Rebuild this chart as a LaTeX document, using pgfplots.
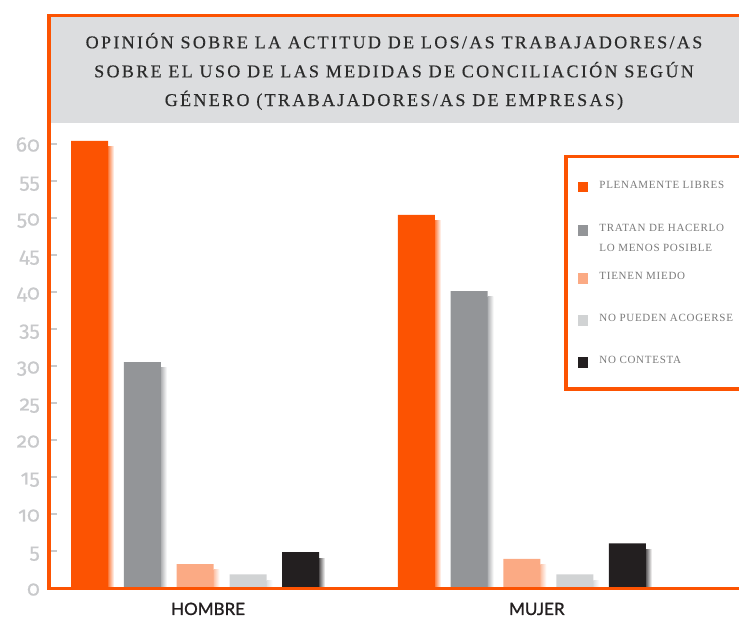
\documentclass[border=0pt]{standalone}
\usepackage{pgfplots}
\pgfplotsset{compat=1.18}
\usepackage{fontspec}
\newfontfamily\titlefont[LetterSpace=13,FakeBold=0.4]{Liberation Serif}
\newfontfamily\legfont[LetterSpace=6.5]{Liberation Serif}
\newfontfamily\tickfont[Numbers=OldStyle,FakeBold=0.6]{Fira Sans}
\newfontfamily\labfont[FakeBold=1.2]{Lato}
\newcommand\tl[1]{\hbox{\tickfont\fontsize{21}{21}\selectfont #1}}
\definecolor{orangeC}{HTML}{FC5302}
\definecolor{grayC}{HTML}{939598}
\definecolor{pinkC}{HTML}{FBAA84}
\definecolor{lgrayC}{HTML}{D1D3D4}
\definecolor{blackC}{HTML}{231F20}
\definecolor{titlebg}{HTML}{DCDDDF}
\definecolor{tickgray}{HTML}{C8C9CB}
\definecolor{titletext}{HTML}{2B2B2B}
\definecolor{leggray}{HTML}{7A7A7A}
\newcommand\lstrut[1]{\rule[-#1]{0pt}{\dimexpr 10pt+#1\relax}}
\pgfplotsset{
  mybar/.style={ybar, bar width=37pt, draw=none, fill=#1,
    legend image code/.code={\fill[#1] (0pt,-4pt) rectangle (10.7pt,6.3pt);}},
  myshadow/.style={ybar, bar width=6pt, draw=none, left color=#1!75!white, right color=white, forget plot},
}
\begin{document}
\begin{tikzpicture}
\useasboundingbox (0,0) rectangle (739pt,618pt);
\clip (0,0) rectangle (739pt,618pt);
\begin{axis}[
  at={(49pt,29.5pt)}, anchor=south west,
  scale only axis, width=690pt, height=573.2pt,
  xmin=-0.4468, xmax=1.6646, ymin=0, ymax=77.46,
  clip=false,
  axis line style={draw=none},
  xtick={0.04,1.046}, xticklabels={HOMBRE,MUJER},
  xtick style={draw=none},
  xticklabel style={font=\labfont\fontsize{17}{17}\selectfont, text=blackC, anchor=base, yshift=-26.5pt},
  ytick={0,5,...,60},
  yticklabel={\tl{\pgfmathprintnumber[assume math mode=true]{\tick}}},
  ytick pos=left, tick align=inside,
  major tick length=8pt,
  ytick style={draw=tickgray, line width=2pt},
  yticklabel style={text=tickgray, anchor=base east, inner sep=0pt, xshift=-9pt, yshift=-7pt},
  legend cell align=left,
  legend style={at={(0.7464,0.7563)}, anchor=north west, draw=orangeC, line width=3.5pt, fill=white,
    inner xsep=12pt, inner ysep=21.5pt, row sep=0pt, column sep=11pt,
    nodes={inner sep=0pt, text depth=},
    cells={anchor=base west, inner sep=0pt},
    font=\legfont\fontsize{11}{11}\selectfont, text=leggray},
]
\fill[titlebg] (axis cs:-0.4468,62.95) rectangle (axis cs:1.75,77.23);
\node[anchor=base, inner sep=0pt, font=\titlefont\fontsize{18}{18}\selectfont, text=titletext] at (axis cs:0.609,73.0) {OPINIÓN SOBRE LA ACTITUD DE LOS/AS TRABAJADORES/AS};
\node[anchor=base, inner sep=0pt, font=\titlefont\fontsize{18}{18}\selectfont, text=titletext] at (axis cs:0.609,69.08) {SOBRE EL USO DE LAS MEDIDAS DE CONCILIACIÓN SEGÚN};
\node[anchor=base, inner sep=0pt, font=\titlefont\fontsize{18}{18}\selectfont, text=titletext] at (axis cs:0.609,65.2) {GÉNERO (TRABAJADORES/AS DE EMPRESAS)};
% shadows (one plot per bar so that each is shaded on its own)
\addplot[myshadow=orangeC, bar shift=-83.9pt] coordinates {(0,59.7)};
\addplot[myshadow=orangeC, bar shift=-83.9pt] coordinates {(1,49.7)};
\addplot[myshadow=grayC, bar shift=-31.2pt] coordinates {(0,29.8)};
\addplot[myshadow=grayC, bar shift=-31.2pt] coordinates {(1,39.4)};
\addplot[myshadow=pinkC, bar shift=21.5pt] coordinates {(0,2.5)};
\addplot[myshadow=pinkC, bar shift=21.5pt] coordinates {(1,3.2)};
\addplot[myshadow=lgrayC, bar shift=74.5pt] coordinates {(0,1.1)};
\addplot[myshadow=lgrayC, bar shift=74.5pt] coordinates {(1,1.1)};
\addplot[myshadow=blackC, bar shift=127pt] coordinates {(0,4.1)};
\addplot[myshadow=blackC, bar shift=127pt] coordinates {(1,5.3)};
% bars
\addplot[mybar=orangeC, bar shift=-105.4pt] coordinates {(0,60.5) (1,50.5)};
\addlegendentry{PLENAMENTE LIBRES\lstrut{33.3pt}}
\addplot[mybar=grayC, bar shift=-52.7pt] coordinates {(0,30.6) (1,40.2)};
\addlegendentry{TRATAN DE HACERLO\lstrut{10pt}}
\addlegendimage{empty legend}
\addlegendentry{LO MENOS POSIBLE\lstrut{18pt}}
\addplot[mybar=pinkC, bar shift=0pt] coordinates {(0,3.3) (1,4.0)};
\addlegendentry{TIENEN MIEDO\lstrut{32pt}}
\addplot[mybar=lgrayC, bar shift=53pt] coordinates {(0,1.9) (1,1.9)};
\addlegendentry{NO PUEDEN ACOGERSE\lstrut{32pt}}
\addplot[mybar=blackC, bar shift=105.5pt] coordinates {(0,4.9) (1,6.1)};
\addlegendentry{NO CONTESTA\lstrut{0pt}}
\draw[orangeC, line width=3.5pt, line join=miter] (axis cs:1.75,77.46) -- (axis cs:-0.4468,77.46) -- (axis cs:-0.4468,0) -- (axis cs:1.75,0);
\end{axis}
\end{tikzpicture}
\end{document}
